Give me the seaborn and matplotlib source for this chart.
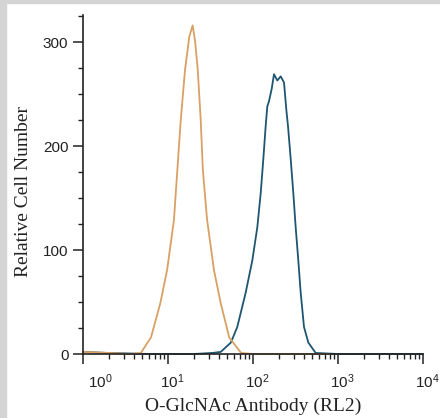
import numpy as np
import pandas as pd
import seaborn as sns
import matplotlib.pyplot as plt
from matplotlib.ticker import LogLocator, MultipleLocator, FixedLocator, NullFormatter
from matplotlib.patches import Rectangle
import matplotlib.transforms as mtransforms

# isotype control (orange) - log10 of intensity and counts
ctrl_log = [0.0, 0.30, 0.55, 0.68, 0.80, 0.91, 0.99, 1.07, 1.11, 1.15, 1.20,
            1.25, 1.29, 1.32, 1.35, 1.385, 1.41, 1.46, 1.54, 1.62, 1.72, 1.86,
            2.0, 2.9]
ctrl_cnt = [2, 1, 0, 1, 16, 49, 81, 129, 177, 225, 273,
            305, 316, 300, 273, 225, 177, 129, 81, 49, 16, 1,
            0, 0]

# O-GlcNAc (RL2) stained (dark blue)
rl2_log = [0.0, 0.30, 0.80, 1.30, 1.52, 1.62, 1.74, 1.815, 1.914, 1.992, 2.051,
           2.091, 2.121, 2.149, 2.168, 2.188, 2.22, 2.247, 2.286, 2.326, 2.365,
           2.392, 2.412, 2.444, 2.474, 2.502, 2.533, 2.561, 2.60, 2.651, 2.737,
           3.0, 4.0]
rl2_cnt = [2, 1, 0, 0, 1, 2, 11, 26, 59, 90, 122,
           155, 187, 219, 238, 243, 255, 269, 263, 267, 261,
           235, 219, 187, 155, 122, 90, 59, 26, 11, 1,
           0, 0]

x_ticks = [1, 10, 100, 1000, 10000]
x_ticklabels = ["$10^{0}$", "$10^{1}$", "$10^{2}$", "$10^{3}$", "$10^{4}$"]

df = pd.concat([
    pd.DataFrame({"x": np.power(10.0, ctrl_log), "y": ctrl_cnt, "s": "ctrl"}),
    pd.DataFrame({"x": np.power(10.0, rl2_log), "y": rl2_cnt, "s": "rl2"}),
])

sns.set_style("ticks")
plt.rcParams["font.family"] = ["Liberation Sans", "DejaVu Sans"]
plt.rcParams["mathtext.fontset"] = "custom"
plt.rcParams["mathtext.rm"] = "Liberation Sans"
plt.rcParams["mathtext.it"] = "Liberation Sans:italic"
plt.rcParams["mathtext.bf"] = "Liberation Sans:bold"

fig = plt.figure(figsize=(4.4, 4.18), dpi=100)
ax = fig.add_axes([83 / 440, 1 - 354 / 418, 340 / 440, 339 / 418])

sns.lineplot(data=df, x="x", y="y", hue="s", palette={"rl2": "#1e5572", "ctrl": "#d9a064"},
             hue_order=["rl2", "ctrl"], linewidth=1.3, legend=False, ax=ax,
             sort=False, estimator=None)
for ln in ax.lines:
    ln.set_clip_on(False)

ax.set_xscale("log")
ax.set_xlim(1, 1e4)
ax.set_ylim(0, 326)
sns.despine(ax=ax)
for sp in ["left", "bottom"]:
    ax.spines[sp].set_linewidth(1.2)
    ax.spines[sp].set_color("#222222")

ax.xaxis.set_major_locator(FixedLocator(x_ticks))
ax.set_xticklabels(x_ticklabels)
ax.xaxis.set_minor_locator(LogLocator(base=10, subs=np.arange(2, 10)))
ax.xaxis.set_minor_formatter(NullFormatter())
ax.yaxis.set_major_locator(MultipleLocator(100))
ax.yaxis.set_minor_locator(MultipleLocator(25))

ax.tick_params(axis="both", which="major", length=7, width=1.1, color="#222222",
               labelsize=11, labelcolor="#222222", pad=3.5)
ax.tick_params(axis="x", which="major", pad=6.5)
ax.tick_params(axis="both", which="minor", length=3.5, width=1.0, color="#222222")

# first label sits clear of the y axis, the others a touch right of the tick
for i, lbl in enumerate(ax.get_xticklabels()):
    dx = 17 if i == 0 else 4
    lbl.set_transform(lbl.get_transform() +
                      mtransforms.ScaledTranslation(dx / 100, 0, fig.dpi_scale_trans))

ax.set_xlabel("O-GlcNAc Antibody (RL2)", family=["Liberation Serif"], fontsize=14,
              color="#222222")
ax.set_ylabel("Relative Cell Number", family=["Liberation Serif"], fontsize=14,
              color="#222222")
ax.xaxis.set_label_coords(0.5, -0.13)
ax.yaxis.set_label_coords(-0.15, 0.48)

# light grey frame strips of the original screenshot
fig.patches.append(Rectangle((0, 1 - 3 / 418), 1, 3 / 418, transform=fig.transFigure,
                             color="#d4d4d4", zorder=0))
fig.patches.append(Rectangle((0, 0), 6 / 440, 1, transform=fig.transFigure,
                             color="#d4d4d4", zorder=0))

fig.savefig("out.png", dpi=100)
